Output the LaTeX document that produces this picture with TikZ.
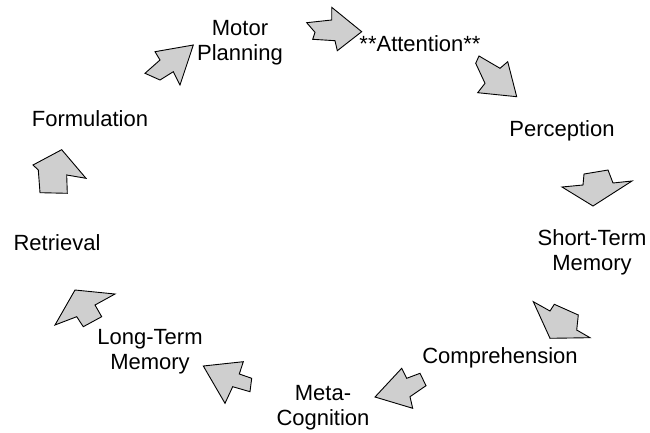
\documentclass[tikz,border=0pt]{standalone}
\usepackage{fontspec}
\setmainfont{Liberation Sans}
\begin{document}
\begin{tikzpicture}[x=1pt,y=-1pt,
  lbl/.style={inner sep=0pt,align=center,font=\fontsize{22}{25}\selectfont},
  blockarrow/.style={draw=black,line width=0.9pt,line join=miter,fill=gray!38}]
\useasboundingbox[fill=white] (0,0) rectangle (650,433);
% labels
\node[lbl,anchor=north] (motor) at (240,20.3) {Motor\\Planning};
\node[lbl,anchor=base] (attn) at (420,52) {**Attention**};
\node[lbl,anchor=base] (perc) at (562,136) {Perception};
\node[lbl,anchor=north] (stm) at (592,229.3) {Short-Term\\Memory};
\node[lbl,anchor=base] (comp) at (500,363) {Comprehension};
\node[lbl,anchor=north] (meta) at (323,385.3) {Meta-\\Cognition};
\node[lbl,anchor=north] (ltm) at (150,329.3) {Long-Term\\Memory};
\node[lbl,anchor=base] (retr) at (57,250) {Retrieval};
\node[lbl,anchor=base] (form) at (90,127) {Formulation};
% block arrows
\draw[blockarrow] (306.7,22.7) -- (331.7,20) -- (331.7,7.3) -- (361.7,31.7) -- (337.3,50.7) -- (335,40.7) -- (312.7,39.3) -- (315,32.3) -- cycle;
\draw[blockarrow] (479,56) -- (500,68.3) -- (507.7,61.7) -- (516.7,96.7) -- (477.7,92.7) -- (485,83.3) -- (475.7,63.3) -- cycle;
\draw[blockarrow] (584,174) -- (608,170) -- (613,183) -- (632,181) -- (593,206) -- (562,187) -- (583,185) -- cycle;
\draw[blockarrow] (533.3,301.7) -- (550,311) -- (554.3,304.3) -- (578.3,315) -- (576.7,330) -- (590,337.7) -- (550,338.3) -- cycle;
\draw[blockarrow] (375,397) -- (401.7,368.3) -- (406.7,378.3) -- (420,373.3) -- (426,385.7) -- (410,396.7) -- (412.7,408.3) -- cycle;
\draw[blockarrow] (203.3,366) -- (243.3,361.7) -- (239.3,374) -- (251.7,378.3) -- (250,391.7) -- (232.7,386.7) -- (225,403.3) -- cycle;
\draw[blockarrow] (75,290) -- (115,294) -- (95,305) -- (101.7,316.7) -- (83.3,326.7) -- (76.7,316.7) -- (55,325) -- cycle;
\draw[blockarrow] (33,165) -- (61.7,149.7) -- (86,178.3) -- (66.7,175) -- (67.3,193.3) -- (40,192.7) -- (38.3,170) -- cycle;
\draw[blockarrow] (193.3,45) -- (180,85) -- (173.3,71.7) -- (160,80) -- (145,73.3) -- (160,60) -- (155,51.7) -- cycle;
\end{tikzpicture}
\end{document}
